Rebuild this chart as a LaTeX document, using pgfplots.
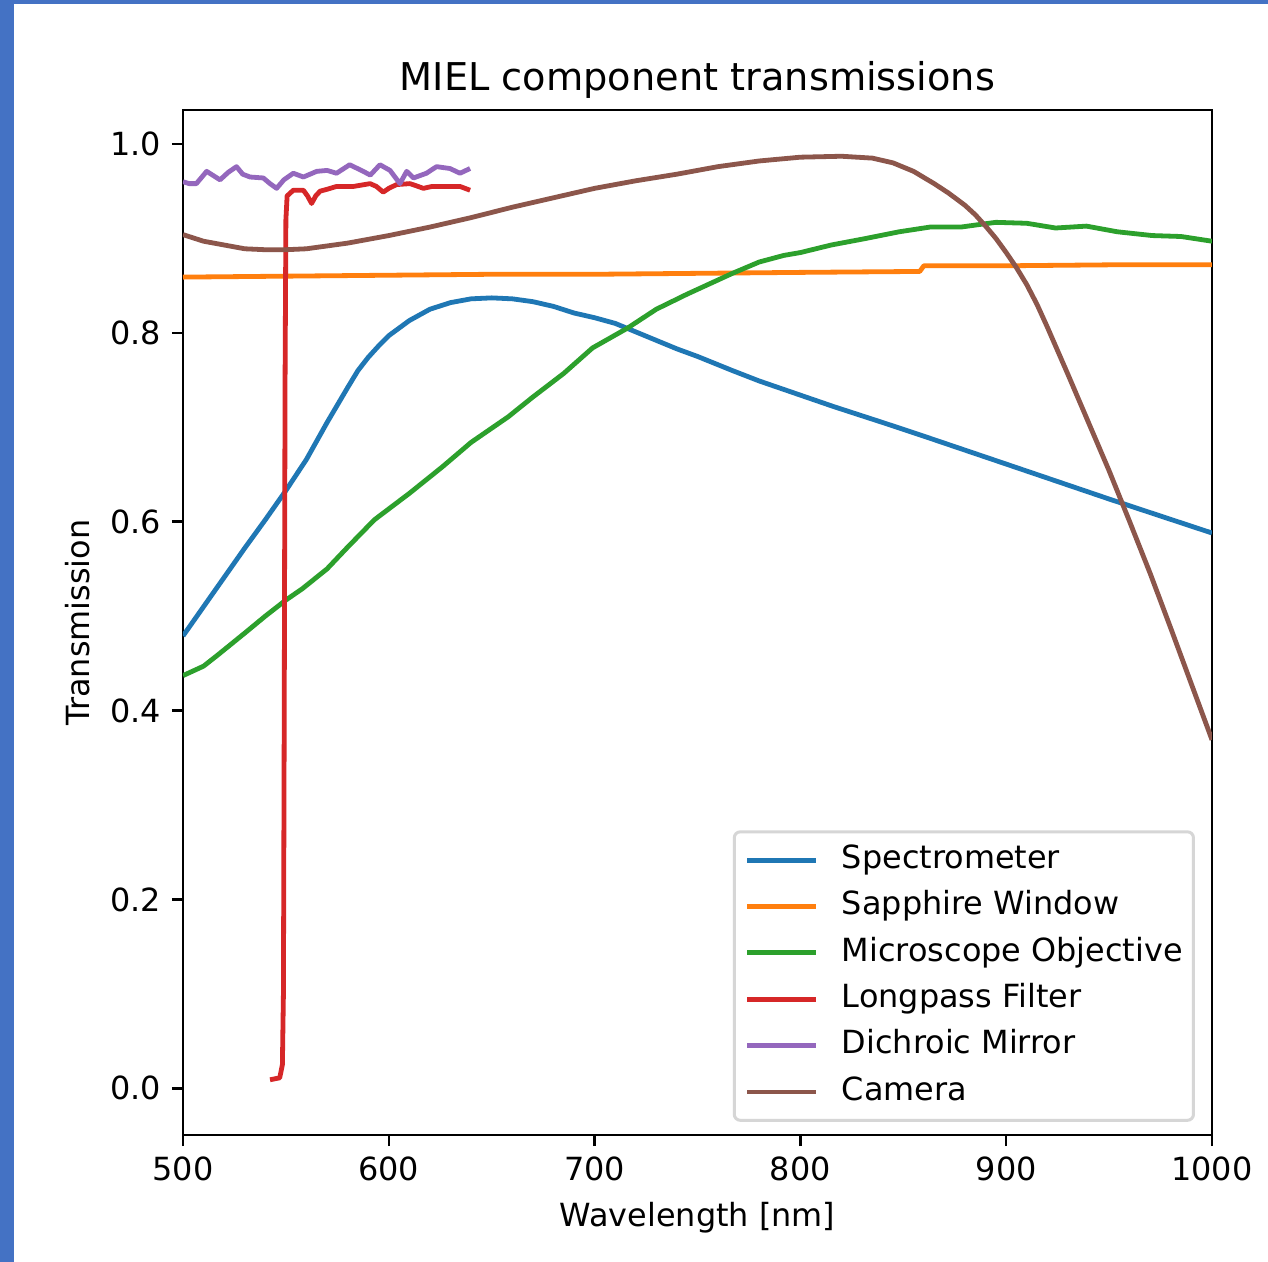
\documentclass[border=0pt]{standalone}
\usepackage{fontspec}
\setmainfont{DejaVu Sans}
\usepackage{pgfplots}
\pgfplotsset{compat=1.18}

% matplotlib "tab10" colours
\definecolor{C0}{HTML}{1F77B4}
\definecolor{C1}{HTML}{FF7F0E}
\definecolor{C2}{HTML}{2CA02C}
\definecolor{C3}{HTML}{D62728}
\definecolor{C4}{HTML}{9467BD}
\definecolor{C5}{HTML}{8C564B}
\definecolor{frameblue}{HTML}{4472C4}
\definecolor{legendedge}{HTML}{D6D6D6}

\begin{document}
\begin{tikzpicture}
% page background with the blue edge strips
\fill[white] (-61pt,-42.33pt) rectangle (361.67pt,378.33pt);
\fill[frameblue] (-61pt,-42.33pt) rectangle (-56.33pt,378.33pt);
\fill[frameblue] (-61pt,377pt) rectangle (361.67pt,378.33pt);

\begin{axis}[
  at={(0pt,0pt)}, anchor=south west,
  scale only axis, width=343pt, height=341.67pt,
  xmin=500, xmax=1000, ymin=-0.0495, ymax=1.036,
  xtick={500,600,700,800,900,1000},
  ytick={0,0.2,0.4,0.6,0.8,1},
  xtick pos=bottom, ytick pos=left,
  tick align=outside,
  major tick length=3.72pt,
  axis line style={line width=0.85pt},
  every tick/.style={black, line width=0.85pt},
  /pgf/number format/assume math mode=true,
  x tick label style={/pgf/number format/1000 sep={}},
  y tick label style={/pgf/number format/.cd, fixed, fixed zerofill, precision=1},
  tick label style={font=\fontsize{10.63}{12.8}\selectfont},
  title={MIEL component transmissions},
  title style={at={(axis description cs:0.5,1.0115)}, anchor=center,
               font=\fontsize{12.76}{15}\selectfont},
  xlabel={Wavelength [nm]},
  xlabel style={at={(axis description cs:0.5,-0.081)}, anchor=center,
                font=\fontsize{10.63}{12.8}\selectfont},
  ylabel={Transmission},
  ylabel style={at={(axis description cs:-0.102,0.5)}, anchor=center, rotate=0,
                font=\fontsize{10.63}{12.8}\selectfont},
  every axis plot/.append style={line width=1.6pt, line join=round},
  legend image code/.code={\draw[#1] (0pt,0pt) -- (23pt,0pt);},
  legend cell align=left,
  legend style={
    at={(axis description cs:1,0)}, anchor=south east,
    xshift=-5.67pt, yshift=4.4pt,
    draw=legendedge, line width=1pt, rounded corners=2pt, fill=white,
    font=\fontsize{10.63}{12.8}\selectfont,
    inner xsep=3.6pt, inner ysep=4.2pt,
    row sep=4.95pt,
    nodes={inner sep=0pt, text height=8pt, text depth=2.5pt},
    /tikz/every odd column/.append style={column sep=7.7pt},
  },
]

% Spectrometer
\addplot[C0] coordinates {
(500,0.479)(510,0.510)(520,0.541)(530,0.572)(540,0.602)(550,0.633)
(560,0.666)(570,0.705)(580,0.742)(585,0.760)(590,0.774)(595,0.786)
(600,0.797)(610,0.813)(620,0.825)(630,0.832)(640,0.836)(650,0.837)
(660,0.836)(670,0.833)(680,0.828)(690,0.821)(700,0.816)(710,0.810)
(720,0.801)(730,0.792)(740,0.783)(750,0.775)(767,0.760)(780,0.749)
(800,0.734)(816,0.722)(840,0.705)(858,0.692)(900,0.661)(950,0.624)
(1000,0.588)};
\addlegendentry{Spectrometer}

% Sapphire window
\addplot[C1] coordinates {
(500,0.859)(550,0.860)(600,0.861)(650,0.862)(700,0.862)(750,0.863)
(800,0.864)(858,0.865)(860,0.871)(900,0.871)(950,0.872)(1000,0.872)};
\addlegendentry{Sapphire Window}

% Microscope objective
\addplot[C2] coordinates {
(500,0.437)(510,0.447)(517,0.459)(530,0.482)(540,0.500)(550,0.517)
(558,0.529)(570,0.550)(580,0.573)(593,0.602)(610,0.630)(626,0.658)
(640,0.684)(658,0.711)(670,0.732)(685,0.757)(699,0.784)(716,0.805)
(730,0.825)(745,0.841)(767,0.863)(780,0.875)(792,0.882)(800,0.885)
(815,0.893)(832,0.900)(848,0.907)(863,0.912)(878,0.912)(888,0.915)
(895,0.917)(910,0.916)(924,0.911)(939,0.913)(954,0.907)(971,0.903)
(985,0.902)(1000,0.897)};
\addlegendentry{Microscope Objective}

% Longpass filter
\addplot[C3] coordinates {
(542.3,0.009)(547.0,0.011)(548.3,0.025)(548.8,0.10)(549.2,0.40)
(549.6,0.75)(550.0,0.92)(550.6,0.945)(553.6,0.951)(558.5,0.951)
(560.5,0.945)(562.5,0.937)(564.5,0.945)(566.6,0.950)(570.0,0.952)
(574.6,0.955)(582.8,0.955)(590.9,0.958)(594.0,0.955)(597.3,0.949)
(600.0,0.953)(603.8,0.957)(610.3,0.958)(613.0,0.956)(616.8,0.953)
(621.0,0.955)(626.5,0.955)(634.6,0.955)(639.5,0.951)};
\addlegendentry{Longpass Filter}

% Dichroic mirror
\addplot[C4] coordinates {
(500.0,0.960)(503.0,0.958)(506.5,0.958)(511.5,0.971)(518.0,0.962)
(522.0,0.970)(526.0,0.976)(529.0,0.968)(532.6,0.965)(539.0,0.964)
(542.3,0.958)(545.5,0.953)(549.0,0.962)(553.6,0.969)(558.5,0.965)
(565.0,0.971)(570.0,0.972)(574.6,0.969)(581.0,0.978)(587.6,0.971)
(591.0,0.967)(595.7,0.978)(600.6,0.972)(605.4,0.958)(608.7,0.971)
(612.0,0.964)(618.3,0.969)(623.2,0.976)(629.7,0.974)(634.6,0.969)
(639.5,0.974)};
\addlegendentry{Dichroic Mirror}

% Camera
\addplot[C5] coordinates {
(500,0.904)(510,0.897)(520,0.893)(530,0.889)(540,0.888)(550,0.888)
(560,0.889)(570,0.892)(580,0.895)(590,0.899)(600,0.903)(620,0.912)
(640,0.922)(660,0.933)(680,0.943)(700,0.953)(720,0.961)(740,0.968)
(760,0.976)(780,0.982)(800,0.986)(820,0.987)(835,0.985)(845,0.980)
(855,0.971)(865,0.958)(872,0.948)(880,0.935)(885,0.925)(890,0.913)
(895,0.900)(900,0.885)(905,0.869)(910,0.851)(915,0.830)(920,0.806)
(925,0.781)(930,0.756)(940,0.705)(950,0.654)(960,0.600)(970,0.545)
(980,0.487)(990,0.428)(1000,0.369)};
\addlegendentry{Camera}

\end{axis}
\pgfresetboundingbox
\path[use as bounding box] (-61pt,-42.33pt) rectangle (361.67pt,378.33pt);
\end{tikzpicture}
\end{document}
